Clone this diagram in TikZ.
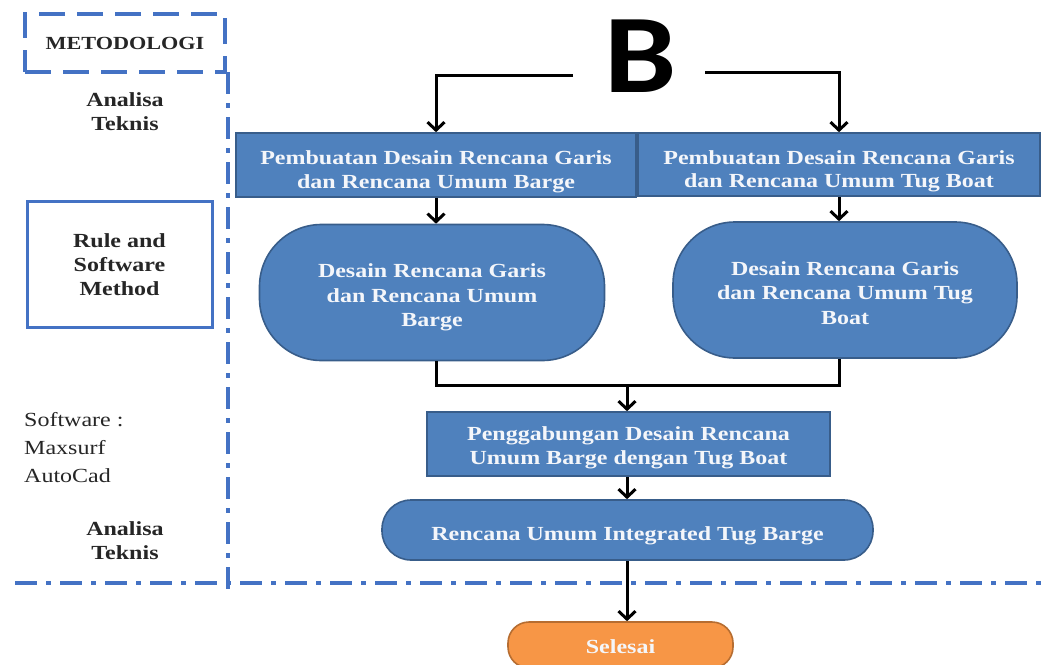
\documentclass[tikz,border=0pt]{standalone}
\usepackage{fontspec}
\setmainfont{Liberation Serif}[FakeStretch=1.2]
\newfontfamily\bigfont{Carlito}[FakeStretch=1.15]
\usetikzlibrary{arrows.meta}
\definecolor{boxblue}{HTML}{4F81BD}
\definecolor{boxedge}{HTML}{385D8A}
\definecolor{lineblue}{HTML}{4472C4}
\definecolor{endfill}{HTML}{F79646}
\definecolor{endedge}{HTML}{B66D31}
\definecolor{boxtext}{HTML}{F4F6FA}
% centred lines, pushed down by half of the extra top room #1
\newcommand\lowlines[2]{\raisebox{0pt}[\dimexpr\height+#1\relax][\depth]{%
  \begin{tabular}{@{}c@{}}#2\end{tabular}}}
\tikzset{
  flowbox/.style={draw=boxedge, line width=1.6pt, fill=boxblue, text=boxtext,
    font=\fontsize{20}{23.5}\selectfont\bfseries, inner sep=0pt},
  flowround/.style={flowbox, rounded corners=#1},
  endshape/.style={draw=endedge, line width=1.6pt, fill=endfill, text=boxtext,
    font=\fontsize{20}{23.5}\selectfont\bfseries, rounded corners=21pt,
    inner sep=0pt},
  sidetext/.style={font=\fontsize{20}{24}\selectfont\bfseries, align=center,
    text=black!85},
  arrowline/.style={line width=3pt, black,
    -{Straight Barb[length=8pt,width=17pt]}},
  plainline/.style={line width=3pt, black},
  dashdot/.style={lineblue, line width=3.5pt,
    dash pattern=on 22pt off 9pt on 5pt off 9pt},
}
\begin{document}
\begin{tikzpicture}[x=1pt, y=-1pt]
\useasboundingbox (0,0) rectangle (1044,664);
\clip (0,0) rectangle (1044,664);

% ---- left column: method labels ----
\node[draw=lineblue, line width=3.5pt, dash pattern=on 26pt off 12pt,
      minimum width=200pt, minimum height=58pt, inner sep=0pt,
      font=\fontsize{18.5}{20}\selectfont\bfseries, text=black!85]
      (metod) at (125,43) {METODOLOGI};
\node[sidetext] (an1) at (125,112) {Analisa\\Teknis};
\node[draw=lineblue, line width=3pt, minimum width=185pt, minimum height=126pt,
      font=\fontsize{20}{24}\selectfont\bfseries, text=black!85, inner sep=0pt]
      (rule) at (119.5,264) {\lowlines{6pt}{Rule and\\Software\\Method}};
\node[font=\fontsize{20}{28}\selectfont, align=left, anchor=west, inner sep=0pt,
      text=black!85] (soft) at (24,448) {Software :\\Maxsurf\\AutoCad};
\node[sidetext] (an2) at (125,541) {Analisa\\Teknis};

% ---- dash-dot separators ----
\draw[dashdot] (228,72) -- (228,594);
\draw[dashdot] (15,583) -- (1044,583);

% ---- flow ----
\node[font=\fontsize{112}{112}\selectfont\bigfont\bfseries, inner sep=0pt]
      (B) at (641,56) {B};
\coordinate (bl) at (573,75);
\coordinate (br) at (705,72);

\node[flowbox, minimum width=400pt, minimum height=64pt] (p1) at (436,165)
  {\lowlines{14pt}{Pembuatan Desain Rencana Garis\\dan Rencana Umum Barge}};
\node[flowbox, minimum width=402pt, minimum height=63pt] (p2) at (839,164.5)
  {\lowlines{14pt}{Pembuatan Desain Rencana Garis\\dan Rencana Umum Tug Boat}};

\node[flowround=62pt, minimum width=345pt, minimum height=136pt,
      font=\fontsize{20}{24.5}\selectfont\bfseries] (d1) at (432,292.5)
  {\lowlines{10pt}{Desain Rencana Garis\\dan Rencana Umum\\Barge}};
\node[flowround=62pt, minimum width=344pt, minimum height=136pt,
      font=\fontsize{20}{24.5}\selectfont\bfseries] (d2) at (845,290)
  {\lowlines{10pt}{Desain Rencana Garis\\dan Rencana Umum Tug\\Boat}};

\coordinate (join) at (627,385);

\node[flowbox, minimum width=403pt, minimum height=64pt] (gab) at (628.5,444)
  {\lowlines{8pt}{Penggabungan Desain Rencana\\Umum Barge dengan Tug Boat}};
\node[flowround=29pt, minimum width=491pt, minimum height=60pt] (itb) at (627.5,530)
  {\lowlines{12pt}{Rencana Umum Integrated Tug Barge}};
\node[endshape, minimum width=225pt, minimum height=46pt] (end) at (620.5,645)
  {\lowlines{8pt}{Selesai}};

% connectors
\draw[arrowline] (bl) -| (p1.north);
\draw[arrowline] (br) -| (p2.north);
\draw[arrowline] (p1.south) -- (p1.south |- d1.north);
\draw[arrowline] (p2.south) -- (p2.south |- d2.north);
\draw[plainline] (p1.south |- d1.south) |- (join);
\draw[plainline] (p2.south |- d2.south) |- (join);
\draw[arrowline] (join) -- (join |- gab.north);
\draw[arrowline] (join |- gab.south) -- (join |- itb.north);
\draw[arrowline] (join |- itb.south) -- (join |- end.north);
\end{tikzpicture}
\end{document}
